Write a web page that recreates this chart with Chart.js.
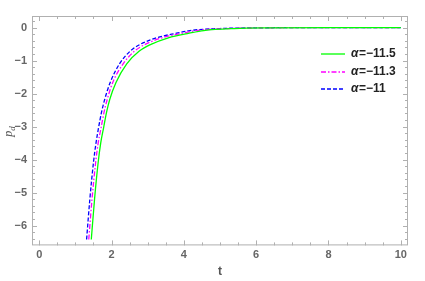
<!DOCTYPE html>
<html>
<head>
<meta charset="UTF-8">
<title>p_d vs t</title>
<style>
  body { margin: 0; background: #fff; }
  #wrap { width: 425px; height: 281px; }
</style>
</head>
<body>
<div id="wrap"><canvas id="pd"></canvas></div>
<script src="https://cdn.jsdelivr.net/npm/chart.js"></script>
<script>
// values
const labels = ['α=−11.5', 'α=−11.3', 'α=−11'];
const tGreen   = [1.44, 1.53, 1.63, 1.70, 1.78, 1.86, 1.95, 2.12, 2.42, 2.76, 3.09, 3.57, 4.15, 4.55, 5.4, 6.4, 8, 10];
const pGreen   = [-6.42, -5.2, -4.09, -3.5, -3.04, -2.58, -2.18, -1.67, -1.1, -0.72, -0.51, -0.31, -0.17, -0.09, -0.03, -0.01, 0, 0];
const tMagenta = [1.37, 1.46, 1.56, 1.63, 1.71, 1.79, 1.88, 2.03, 2.32, 2.63, 2.93, 3.4, 3.97, 4.35, 5.2, 6.2, 8, 10];
const pMagenta = [-6.42, -5.2, -4.09, -3.5, -3.04, -2.58, -2.18, -1.67, -1.1, -0.72, -0.51, -0.31, -0.17, -0.09, -0.03, -0.01, 0, 0];
const tBlue    = [1.31, 1.40, 1.50, 1.57, 1.64, 1.72, 1.81, 1.96, 2.22, 2.51, 2.79, 3.25, 3.80, 4.17, 5, 6, 8, 10];
const pBlue    = [-6.42, -5.2, -4.09, -3.5, -3.04, -2.58, -2.18, -1.67, -1.1, -0.72, -0.51, -0.31, -0.17, -0.09, -0.03, -0.01, 0, 0];
const xTicks = [0, 2, 4, 6, 8, 10];
const yTicks = [0, -1, -2, -3, -4, -5, -6];

const pts = (xs, ys) => xs.map((x, i) => ({ x: x, y: ys[i] }));
const gray = '#b0b0b0';
const tickFont = { family: 'Liberation Sans', size: 11, weight: 'bold' };

// inward ticks, frame, y title and legend, drawn Mathematica-style
const decor = {
  id: 'decor',
  afterDraw(chart) {
    const c = chart.ctx, a = chart.chartArea;
    const xs = chart.scales.x, ys = chart.scales.y;
    c.save();
    c.strokeStyle = gray;
    c.lineWidth = 1;
    c.strokeRect(a.left + 0.5, a.top + 0.5, a.right - a.left - 1, a.bottom - a.top - 1);
    c.beginPath();
    for (let v = 0; v <= 10.001; v += 0.5) {
      const px = Math.round(xs.getPixelForValue(v)) + 0.5;
      const len = Math.abs(v % 2) < 0.01 ? 5 : 3;
      c.moveTo(px, a.bottom); c.lineTo(px, a.bottom - len);
      c.moveTo(px, a.top); c.lineTo(px, a.top + len);
    }
    for (let v = -6.4; v <= 0.201; v += 0.2) {
      const py = Math.round(ys.getPixelForValue(v)) + 0.5;
      const major = Math.abs(v - Math.round(v)) < 0.01;
      const len = major ? 5 : 3;
      c.moveTo(a.left, py); c.lineTo(a.left + len, py);
      c.moveTo(a.right, py); c.lineTo(a.right - len, py);
    }
    c.stroke();

    // y title p_d
    c.fillStyle = '#555';
    c.translate(12, (a.top + a.bottom) / 2);
    c.rotate(-Math.PI / 2);
    c.font = 'italic 12px "Liberation Serif"';
    c.textBaseline = 'alphabetic';
    c.fillText('p', -6, 0);
    c.font = 'italic 9px "Liberation Serif"';
    c.fillText('d', 0, 3);
    c.restore();

    // legend
    c.save();
    const rows = [54, 72, 89];
    chart.data.datasets.forEach((ds, i) => {
      c.strokeStyle = ds.borderColor;
      c.lineWidth = 1.3;
      c.setLineDash(ds.borderDash || []);
      c.beginPath();
      c.moveTo(321, rows[i]); c.lineTo(345, rows[i]);
      c.stroke();
      c.setLineDash([]);
      c.fillStyle = '#222';
      c.textBaseline = 'middle';
      c.font = 'italic bold 12px "Liberation Sans"';
      c.fillText('α', 351, rows[i]);
      c.font = 'bold 12px "Liberation Sans"';
      c.fillText(ds.label.slice(1), 359, rows[i]);
    });
    c.restore();
  }
};

new Chart(document.getElementById('pd'), {
  type: 'scatter',
  data: {
    datasets: [
      { label: labels[0], data: pts(tGreen, pGreen), borderColor: '#00ff00', borderWidth: 1.3 },
      { label: labels[1], data: pts(tMagenta, pMagenta), borderColor: '#ff00ff', borderWidth: 1.3, borderDash: [5, 2, 1.5, 2] },
      { label: labels[2], data: pts(tBlue, pBlue), borderColor: '#0000ff', borderWidth: 1.3, borderDash: [4, 2] }
    ].map(d => Object.assign(d, { showLine: true, pointRadius: 0, cubicInterpolationMode: 'monotone', fill: false }))
  },
  options: {
    responsive: true,
    maintainAspectRatio: false,
    animation: false,
    layout: { padding: { left: 0, right: 17, top: 16, bottom: 0 } },
    plugins: { legend: { display: false }, tooltip: { enabled: false } },
    scales: {
      x: {
        type: 'linear', min: -0.2, max: 10.2,
        afterBuildTicks: s => { s.ticks = xTicks.map(v => ({ value: v })); },
        grid: { display: false, drawTicks: false },
        border: { display: false },
        ticks: { color: '#666', font: tickFont, padding: 3, maxRotation: 0 },
        title: { display: true, text: 't', color: '#555', font: { family: 'Liberation Sans', size: 12, weight: 'bold' }, padding: { top: 0, bottom: 2 } }
      },
      y: {
        type: 'linear', min: -6.6, max: 0.35,
        afterBuildTicks: s => { s.ticks = yTicks.map(v => ({ value: v })); },
        afterFit: s => { s.width = 32; },
        grid: { display: false, drawTicks: false },
        border: { display: false },
        ticks: { color: '#666', font: tickFont, padding: 5, callback: v => String(v).replace('-', '−') }
      }
    }
  },
  plugins: [decor]
});
</script>
</body>
</html>
